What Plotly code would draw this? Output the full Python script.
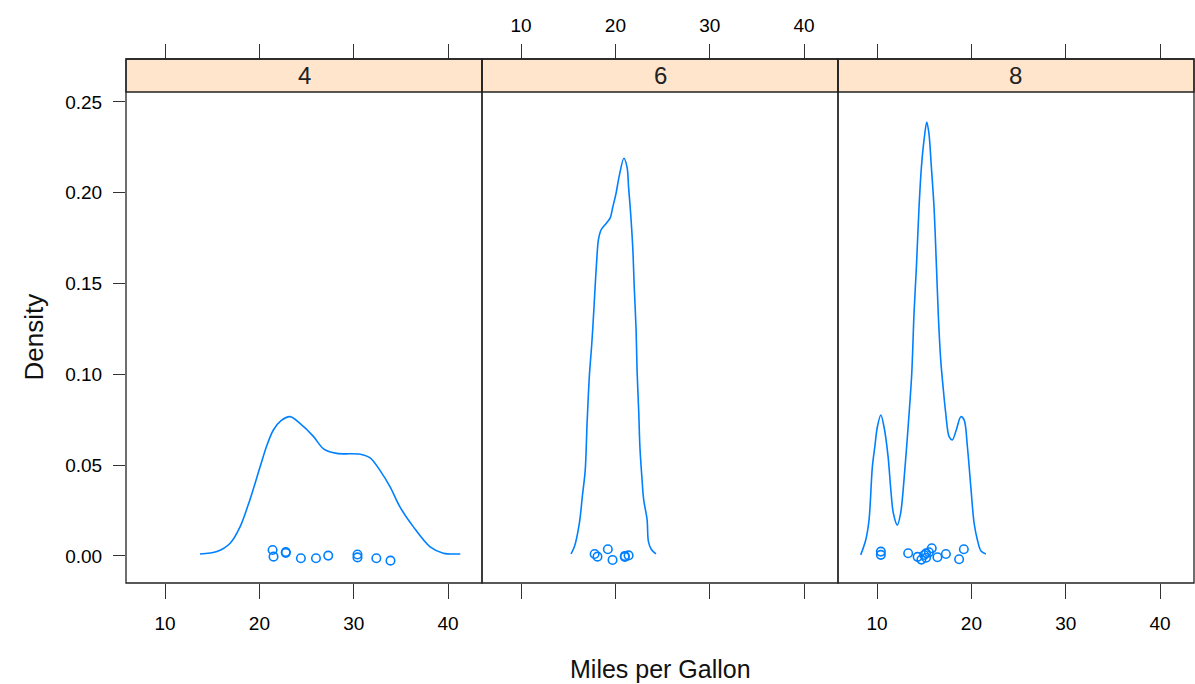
import plotly.graph_objects as go

# ---- data: mpg by number of cylinders (densityplot panels) ----
panel_labels = ["4", "6", "8"]

# kernel density curves per panel (mpg, density)
curve4_x = [13.7, 15.5, 16.9, 17.95, 19.0, 20.07, 20.8, 21.5, 22.3, 23.26, 24.3, 25.7, 26.8, 28.2,
            30.7, 31.74, 32.8, 33.86, 34.9, 36.33, 38.1, 39.5, 41.3]
curve4_y = [0.0011, 0.0024, 0.007, 0.016, 0.031, 0.049, 0.061, 0.0695, 0.0745, 0.0767, 0.073,
            0.066, 0.059, 0.0565, 0.056, 0.054, 0.047, 0.038, 0.027, 0.016, 0.005, 0.0015, 0.0011]

curve6_x = [15.3, 15.65, 16.18, 16.5, 16.8, 17.0, 17.24, 17.5, 17.7, 17.85, 18.0, 18.2, 18.48, 19.0,
            19.44, 19.72, 20.07, 20.4, 20.9, 21.24, 21.4, 21.6, 21.84, 22.0, 22.2, 22.3, 22.48,
            22.6, 22.8, 23.0, 23.36, 23.5, 23.8, 24.3]
curve6_y = [0.0011, 0.005, 0.018, 0.033, 0.047, 0.073, 0.099, 0.117, 0.134, 0.148, 0.161, 0.174,
            0.1795, 0.183, 0.186, 0.192, 0.1997, 0.209, 0.219, 0.214, 0.203, 0.19, 0.170, 0.148,
            0.124, 0.102, 0.0786, 0.060, 0.044, 0.031, 0.020, 0.008, 0.0037, 0.0011]

curve8_x = [8.27, 8.8, 9.15, 9.5, 9.76, 10.03, 10.4, 10.74, 11.17, 11.45, 11.73, 12.15, 12.5, 12.86,
            13.4, 13.68, 13.92, 14.17, 14.45, 14.7, 14.98, 15.27, 15.5, 15.76, 16.04, 16.3, 16.5,
            16.75, 17.03, 17.28, 17.64, 17.98, 18.4, 18.88, 19.23, 19.58, 19.94, 20.29, 20.64,
            21.0, 21.53]
curve8_y = [0.0006, 0.0088, 0.0198, 0.049, 0.060, 0.071, 0.0776, 0.071, 0.0547, 0.037, 0.0235,
            0.017, 0.0235, 0.042, 0.0786, 0.1006, 0.1336, 0.159, 0.192, 0.214, 0.229, 0.239,
            0.2327, 0.214, 0.192, 0.159, 0.132, 0.108, 0.0914, 0.0786, 0.0657, 0.0639, 0.0694,
            0.0767, 0.0749, 0.060, 0.038, 0.018, 0.0088, 0.0029, 0.0011]

# raw observations with small vertical jitter
obs4_mpg = [21.4, 21.5, 22.8, 22.8, 24.4, 26.0, 27.3, 30.4, 30.4, 32.4, 33.9]
obs4_jit = [0.0033, -0.0004, 0.0022, 0.0017, -0.0013, -0.0013, 0.0002, 0.0008, -0.0008, -0.0013, -0.0026]

obs6_mpg = [17.8, 18.1, 19.2, 19.7, 21.0, 21.0, 21.4]
obs6_jit = [0.0011, -0.0004, 0.0037, -0.0022, 0.0, -0.0005, 0.0003]

obs8_mpg = [10.4, 10.4, 13.3, 14.3, 14.7, 15.0, 15.2, 15.2, 15.5, 15.8, 16.4, 17.3, 18.7, 19.2]
obs8_jit = [0.0024, 0.0006, 0.0015, -0.0005, -0.002, 0.0005, -0.001, 0.0015, 0.002, 0.0042,
            -0.0007, 0.0011, -0.0018, 0.0037]

x_ticks = [10, 20, 30, 40]
y_ticks = [0.00, 0.05, 0.10, 0.15, 0.20, 0.25]

# ---- styling ----
LINE_COL = "#0080ff"
STRIP_COL = "#ffe5cc"
FONT = "Liberation Sans, Arial, sans-serif"
X_RANGE = [5.86, 43.6]
Y_RANGE = [-0.0149, 0.2555]

W, H = 1195, 684
ML, MR, MT, MB = 126, 1, 59, 101
plot_w = W - ML - MR
plot_h = H - MT - MB
strip_h = 33
y_top = 1 - strip_h / plot_h  # top of panel data region in paper coords

curves = [(curve4_x, curve4_y), (curve6_x, curve6_y), (curve8_x, curve8_y)]
obs = [(obs4_mpg, obs4_jit), (obs6_mpg, obs6_jit), (obs8_mpg, obs8_jit)]

fig = go.Figure()

for i in range(3):
    xa = "x" if i == 0 else f"x{i + 1}"
    ya = "y" if i == 0 else f"y{i + 1}"
    cx, cy = curves[i]
    ox, oy = obs[i]
    fig.add_trace(go.Scatter(x=cx, y=cy, mode="lines", xaxis=xa, yaxis=ya,
                             line=dict(color=LINE_COL, width=1.6, shape="spline", smoothing=0.9),
                             showlegend=False, hoverinfo="skip"))
    fig.add_trace(go.Scatter(x=ox, y=oy, mode="markers", xaxis=xa, yaxis=ya,
                             marker=dict(symbol="circle-open", size=8.5, color=LINE_COL,
                                         line=dict(width=1.6, color=LINE_COL)),
                             showlegend=False))
    # empty trace so the top tick axis of this panel is drawn
    fig.add_trace(go.Scatter(x=[None], y=[None], mode="lines", xaxis=f"x{i + 4}", yaxis=ya,
                             showlegend=False, hoverinfo="skip"))

tick_font = dict(family=FONT, size=19, color="black")
layout = dict(
    width=W, height=H,
    margin=dict(l=ML, r=MR, t=MT, b=MB),
    paper_bgcolor="white", plot_bgcolor="white",
    font=dict(family=FONT, color="black"),
    showlegend=False,
)

for i in range(3):
    d0 = i / 3
    d1 = (i + 1) / 3
    key = "xaxis" if i == 0 else f"xaxis{i + 1}"
    ykey = "yaxis" if i == 0 else f"yaxis{i + 1}"
    labels_bottom = (i != 1)
    layout[key] = dict(
        domain=[d0, d1], range=X_RANGE, anchor="y" if i == 0 else f"y{i + 1}",
        tickvals=x_ticks, ticks="outside", ticklen=15, tickwidth=1.3, tickcolor="#333",
        showticklabels=labels_bottom, tickfont=tick_font, ticklabelstandoff=8,
        showgrid=False, zeroline=False, showline=False,
    )
    layout[ykey] = dict(
        domain=[0, y_top], range=Y_RANGE,
        tickvals=y_ticks, tickformat=".2f",
        ticks="outside" if i == 0 else "", ticklen=12, tickwidth=1.3, tickcolor="#333",
        showticklabels=(i == 0), tickfont=tick_font, ticklabelstandoff=7,
        showgrid=False, zeroline=False, showline=False,
        anchor="x" if i == 0 else f"x{i + 1}",
    )
    # top axis: ticks above the strip; labels only on the middle panel
    tkey = f"xaxis{i + 4}"
    layout[tkey] = dict(
        domain=[d0, d1], range=X_RANGE, anchor="free", position=1, side="top",
        overlaying="x" if i == 0 else f"x{i + 1}",
        tickvals=x_ticks, ticks="outside", ticklen=15, tickwidth=1.3, tickcolor="#333",
        showticklabels=not labels_bottom, tickfont=tick_font, ticklabelstandoff=4,
        showgrid=False, zeroline=False, showline=False,
    )

fig.update_layout(**layout)

shapes = []
annotations = []
for i in range(3):
    d0 = i / 3
    d1 = (i + 1) / 3
    # strip
    shapes.append(dict(type="rect", xref="paper", yref="paper", x0=d0, x1=d1, y0=y_top, y1=1,
                       fillcolor=STRIP_COL, line=dict(color="#222", width=1.3), layer="below"))
    # panel border
    shapes.append(dict(type="rect", xref="paper", yref="paper", x0=d0, x1=d1, y0=0, y1=1,
                       fillcolor="rgba(0,0,0,0)", line=dict(color="#222", width=1.3)))
    annotations.append(dict(text=panel_labels[i], xref="paper", yref="paper",
                            x=(d0 + d1) / 2, y=(1 + y_top) / 2, showarrow=False,
                            xanchor="center", yanchor="middle",
                            font=dict(family=FONT, size=24, color="#222")))

annotations.append(dict(text="Miles per Gallon", xref="paper", yref="paper",
                        x=0.5, y=(583 - 669) / plot_h, showarrow=False,
                        xanchor="center", yanchor="middle",
                        font=dict(family=FONT, size=25, color="#111")))
annotations.append(dict(text="Density", xref="paper", yref="paper",
                        x=(33 - ML) / plot_w, y=y_top / 2, showarrow=False, textangle=-90,
                        xanchor="center", yanchor="middle",
                        font=dict(family=FONT, size=26, color="#111")))

fig.update_layout(shapes=shapes, annotations=annotations)
fig.write_html("out.html")
